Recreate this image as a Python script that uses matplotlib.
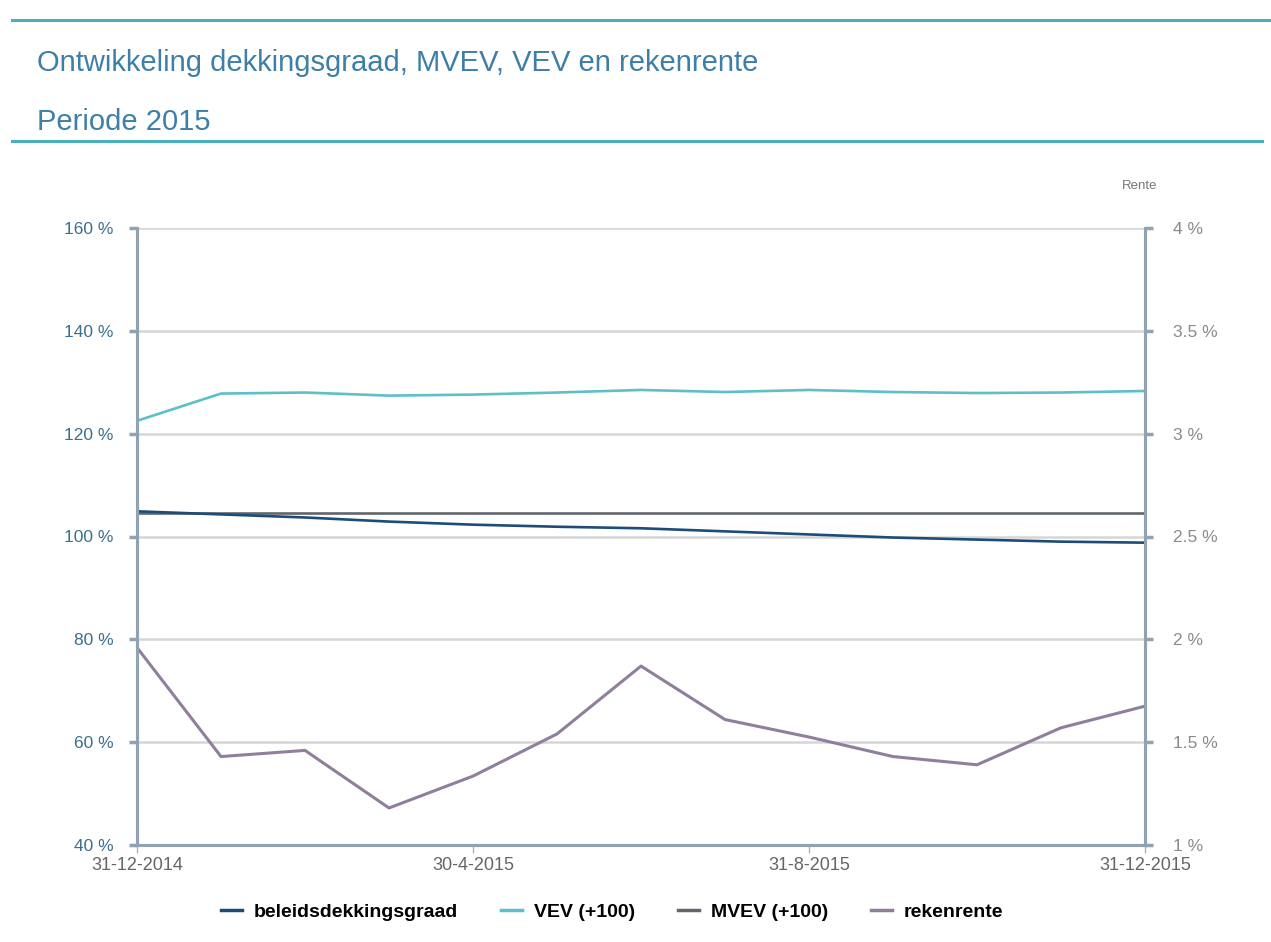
import matplotlib.pyplot as plt
from matplotlib.lines import Line2D

plt.rcParams['font.family'] = ['Liberation Sans', 'DejaVu Sans']

# monthly points, 31-12-2014 .. 31-12-2015
months = list(range(13))
tick_pos = [0, 4, 8, 12]
tick_labels = ["31-12-2014", "30-4-2015", "31-8-2015", "31-12-2015"]

beleidsdekkingsgraad = [104.9, 104.3, 103.7, 102.9, 102.3, 101.9, 101.6,
                        101.0, 100.4, 99.8, 99.4, 99.0, 98.8]
vev = [122.5, 127.8, 128.0, 127.4, 127.6, 128.0, 128.5,
       128.1, 128.5, 128.1, 127.9, 128.0, 128.3]
mvev = [104.5] * 13
rekenrente = [1.96, 1.43, 1.46, 1.18, 1.335, 1.54, 1.87,
              1.61, 1.525, 1.43, 1.39, 1.57, 1.675]

c_bdg = "#1c4d78"
c_vev = "#5dbfca"
c_mvev = "#62666c"
c_rente = "#8f7f9d"
c_title = "#3d7fa6"
c_rule = "#4aaebf"
c_spine = "#91a3b3"

fig = plt.figure(figsize=(12.71, 9.42), dpi=100)
fig.patch.set_facecolor("white")

# header rules and titles
fig.add_artist(Line2D([12 / 1271, 1.0], [1 - 20 / 942] * 2, color=c_rule, lw=2.2))
fig.add_artist(Line2D([12 / 1271, 1262 / 1271], [1 - 141 / 942] * 2, color=c_rule, lw=2.2))
fig.text(37 / 1271, 1 - 63 / 942, "Ontwikkeling dekkingsgraad, MVEV, VEV en rekenrente",
         fontsize=21, color=c_title, va="center", ha="left")
fig.text(37 / 1271, 1 - 122 / 942, "Periode 2015",
         fontsize=21, color=c_title, va="center", ha="left")
fig.text(1140 / 1271, 1 - 186 / 942, "Rente", fontsize=9.5, color="#777777",
         ha="center", va="center")

ax = fig.add_axes([137 / 1271, 1 - 845 / 942, 1008 / 1271, 617 / 942])
ax2 = ax.twinx()

ax.plot(months, vev, color=c_vev, lw=1.9, zorder=3)
ax.plot(months, mvev, color=c_mvev, lw=1.9, zorder=3)
ax.plot(months, beleidsdekkingsgraad, color=c_bdg, lw=1.9, zorder=4)
ax2.plot(months, rekenrente, color=c_rente, lw=2.2)

ax.set_xlim(0, 12)
ax.set_ylim(40, 160)
ax2.set_ylim(1, 4)
ax.set_yticks(range(40, 161, 20))
ax.set_yticklabels([f"{v} %" for v in range(40, 161, 20)])
r_ticks = [1, 1.5, 2, 2.5, 3, 3.5, 4]
ax2.set_yticks(r_ticks)
ax2.set_yticklabels([f"{v:g} %" for v in r_ticks])
ax.set_xticks(tick_pos)
ax.set_xticklabels(tick_labels)

ax.grid(axis="y", color="#d6d6d6", lw=1.8)
ax.set_axisbelow(True)

for a in (ax, ax2):
    a.spines["top"].set_visible(False)
    for s in ("left", "right", "bottom"):
        a.spines[s].set_color(c_spine)
        a.spines[s].set_linewidth(2.2)

ax.tick_params(axis="y", colors=c_spine, labelcolor="#3a6f8e", labelsize=12.5,
               length=6, width=2.5, pad=11)
ax2.tick_params(axis="y", colors=c_spine, labelcolor="#8a8a8a", labelsize=12.5,
                length=6, width=2.5, pad=14)
ax.tick_params(axis="x", colors="#aab4bc", labelcolor="#666666", labelsize=13,
               length=6, width=1, pad=3)

handles = [Line2D([], [], color=c_bdg, lw=2.5),
           Line2D([], [], color=c_vev, lw=2.5),
           Line2D([], [], color=c_mvev, lw=2.5),
           Line2D([], [], color=c_rente, lw=2.5)]
labels = ["beleidsdekkingsgraad", "VEV (+100)", "MVEV (+100)", "rekenrente"]
fig.legend(handles, labels, loc="center", bbox_to_anchor=(612 / 1271, 1 - 912 / 942),
           ncol=4, frameon=False, handlelength=1.1, columnspacing=2.2,
           handletextpad=0.6,
           prop={"family": ["Liberation Sans Narrow", "Liberation Sans"],
                 "weight": "bold", "size": 14})

fig.savefig("out.png", dpi=100, facecolor="white")
